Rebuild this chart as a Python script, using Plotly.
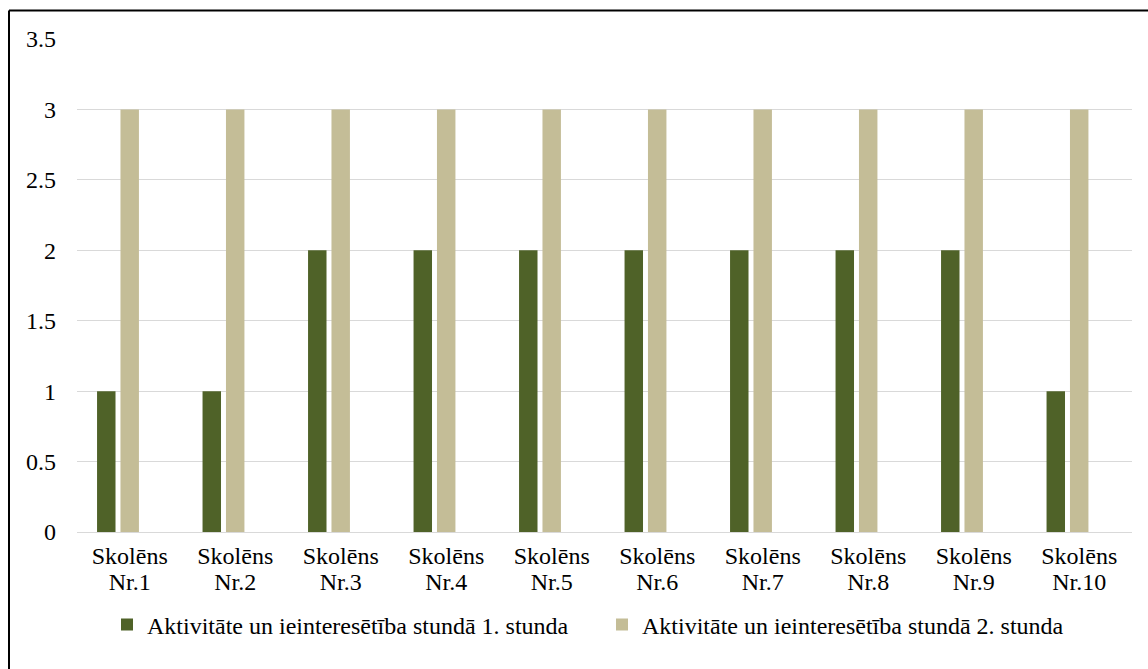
import plotly.graph_objects as go

categories = [f"Skolēns Nr.{i}" for i in range(1, 11)]
lesson1 = [1, 1, 2, 2, 2, 2, 2, 2, 2, 1]
lesson2 = [3, 3, 3, 3, 3, 3, 3, 3, 3, 3]
series_names = [
    "Aktivitāte un ieinteresētība stundā 1. stunda",
    "Aktivitāte un ieinteresētība stundā 2. stunda",
]
y_ticks = [0, 0.5, 1, 1.5, 2, 2.5, 3, 3.5]
y_tick_text = ["0", "0.5", "1", "1.5", "2", "2.5", "3", "3.5"]

FONT = "Liberation Serif"
FS = 24
W, H = 1148, 669
L, R, T, B = 77, 16, 39, 137
pw, ph = W - L - R, H - T - B


def px_x(v):
    return (v - L) / pw


def px_y(v):
    return (H - B - v) / ph


# two-line category labels: tighter line pitch than the glyph size
x_tick_text = [
    "<span style='font-size:%spx'>%s</span><br><span style='font-size:%spx'>%s</span>"
    % (FS, c.split(" ")[0], FS, c.split(" ")[1])
    for c in categories
]

fig = go.Figure()
fig.add_trace(go.Bar(
    x=categories, y=lesson1, name=series_names[0],
    marker=dict(color="#4F6228", line=dict(width=0)),
    width=0.175, offset=-0.31, legend="legend",
))
fig.add_trace(go.Bar(
    x=categories, y=lesson2, name=series_names[1],
    marker=dict(color="#C4BD97", line=dict(width=0)),
    width=0.175, offset=-0.088, legend="legend2",
))

# outer frame: top and left edges
frame = dict(color="black", width=2)
fig.add_shape(type="line", xref="paper", yref="paper",
              x0=px_x(9), x1=px_x(W + 10), y0=px_y(10.5), y1=px_y(10.5),
              line=frame, layer="above")
fig.add_shape(type="line", xref="paper", yref="paper",
              x0=px_x(9), x1=px_x(9), y0=px_y(10.5), y1=px_y(H + 10),
              line=frame, layer="above")

legend_common = dict(
    orientation="h", xanchor="left", yanchor="middle",
    y=px_y(625),
    font=dict(family=FONT, size=FS, color="black"),
    itemwidth=30, bgcolor="rgba(0,0,0,0)", borderwidth=0,
)

fig.update_layout(
    width=W, height=H,
    margin=dict(l=L, r=R, t=T, b=B, pad=0),
    paper_bgcolor="white", plot_bgcolor="white",
    font=dict(family=FONT, size=FS, color="black"),
    barmode="overlay",
    showlegend=True,
    legend=dict(x=px_x(107), **legend_common),
    legend2=dict(x=px_x(602), **legend_common),
    xaxis=dict(
        type="category", categoryorder="array", categoryarray=categories,
        tickvals=categories, ticktext=x_tick_text,
        showgrid=False, zeroline=False, showline=False, ticks="",
        tickfont=dict(family=FONT, size=20.5, color="black"),
        ticklabelstandoff=10,
    ),
    yaxis=dict(
        range=[0, 3.5], tickvals=y_ticks, ticktext=y_tick_text,
        showgrid=True, gridcolor="#D9D9D9", gridwidth=1.3,
        zeroline=True, zerolinecolor="#D9D9D9", zerolinewidth=1.3,
        showline=False, ticks="",
        tickfont=dict(family=FONT, size=FS, color="black"),
        ticklabelstandoff=20,
    ),
)

fig.write_html("out.html")
